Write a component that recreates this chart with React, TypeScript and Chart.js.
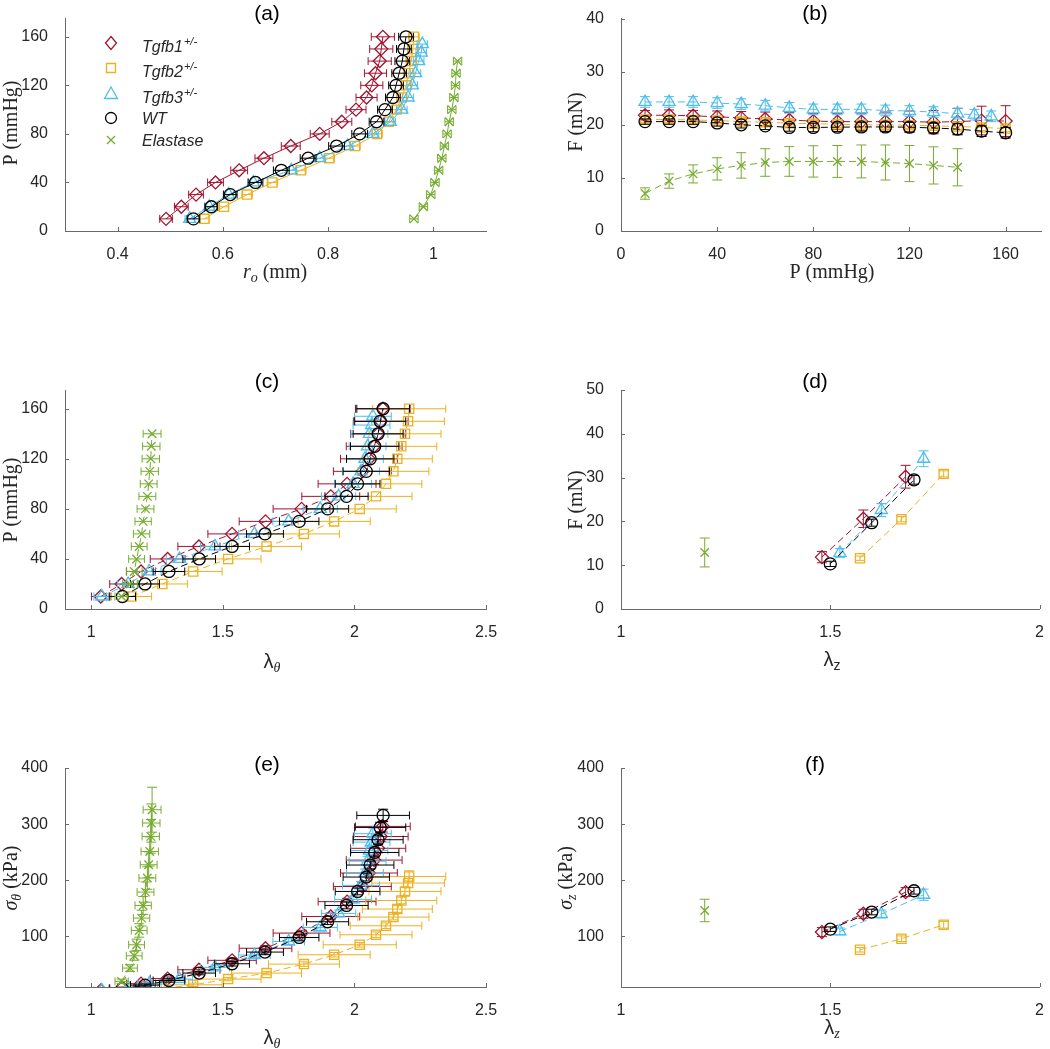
import React, { useEffect, useRef } from 'react';
import { Chart, registerables } from 'chart.js';
Chart.register(...registerables);

// ---------- colours ----------
const C_T1 = '#A2142F';
const C_T2 = '#EDB120';
const C_T3 = '#4DBEEE';
const C_WT = '#000000';
const C_EL = '#77AC30';
const AX = '#6a6a6a';
const TXT = '#262626';
const SANS = '"Liberation Sans", Arial, Helvetica, sans-serif';
const SERIF = '"Liberation Serif", "Times New Roman", serif';

// ---------- data ----------
const P_ALL = [10, 20, 30, 40, 50, 60, 70, 80, 90, 100, 110, 120, 130, 140, 150, 160];
const P_T3 = [10, 20, 30, 40, 50, 60, 70, 80, 90, 100, 110, 120, 130, 140, 147, 154];
const P_EL = [10, 20, 30, 40, 50, 60, 70, 80, 90, 100, 110, 120, 130, 140];

// (a) outer radius r_o (mm)
const ro_t1 = [0.492, 0.521, 0.549, 0.586, 0.631, 0.678, 0.729, 0.784, 0.826, 0.853, 0.873, 0.883, 0.890, 0.898, 0.901, 0.904];
const ro_t1_err = [0.012, 0.013, 0.014, 0.015, 0.016, 0.017, 0.018, 0.018, 0.019, 0.019, 0.020, 0.021, 0.021, 0.022, 0.022, 0.022];
const ro_t2 = [0.565, 0.602, 0.646, 0.694, 0.748, 0.802, 0.851, 0.893, 0.915, 0.930, 0.940, 0.948, 0.953, 0.958, 0.961, 0.963];
const ro_t2_err = [0.009, 0.009, 0.010, 0.010, 0.010, 0.010, 0.010, 0.010, 0.010, 0.010, 0.010, 0.010, 0.010, 0.010, 0.010, 0.010];
const ro_t3 = [0.537, 0.574, 0.611, 0.658, 0.730, 0.784, 0.837, 0.885, 0.918, 0.940, 0.952, 0.960, 0.966, 0.972, 0.977, 0.979];
const ro_t3_err = [0.009, 0.009, 0.009, 0.010, 0.010, 0.010, 0.010, 0.010, 0.010, 0.010, 0.010, 0.010, 0.010, 0.010, 0.010, 0.010];
const ro_wt = [0.544, 0.578, 0.614, 0.662, 0.711, 0.762, 0.816, 0.860, 0.892, 0.908, 0.923, 0.929, 0.935, 0.941, 0.944, 0.948];
const ro_wt_err = [0.012, 0.012, 0.013, 0.014, 0.015, 0.015, 0.015, 0.015, 0.014, 0.014, 0.014, 0.014, 0.014, 0.014, 0.014, 0.014];
const ro_el = [0.963, 0.981, 0.995, 1.003, 1.010, 1.016, 1.021, 1.026, 1.030, 1.035, 1.039, 1.042, 1.043, 1.046];
const ro_el_err = [0.008, 0.008, 0.008, 0.008, 0.008, 0.008, 0.008, 0.008, 0.008, 0.008, 0.008, 0.008, 0.008, 0.008];

// (b) axial force F (mN) vs pressure
const F_t1 = [21.8, 21.8, 21.7, 21.5, 21.3, 21.1, 20.9, 20.7, 20.6, 20.6, 20.6, 20.6, 20.5, 20.6, 20.8, 20.7];
const F_t1_err = [0.9, 1.0, 1.0, 1.1, 1.2, 1.3, 1.4, 1.4, 1.5, 1.6, 1.8, 2.0, 2.2, 2.5, 2.7, 2.9];
const F_t2 = [21.0, 21.0, 20.9, 20.8, 20.6, 20.5, 20.3, 20.2, 20.1, 20.0, 20.0, 19.9, 19.8, 19.7, 19.5, 19.3];
const F_t2_err = [0.6, 0.6, 0.6, 0.6, 0.6, 0.6, 0.6, 0.6, 0.6, 0.6, 0.6, 0.6, 0.6, 0.6, 0.6, 0.6];
const F_t3 = [24.3, 24.3, 24.3, 24.1, 23.9, 23.6, 23.2, 22.9, 22.9, 22.9, 22.7, 22.6, 22.4, 22.1, 21.9, 21.6];
const F_t3_err = [1.0, 1.0, 1.0, 1.0, 1.0, 1.0, 1.0, 1.0, 1.0, 1.0, 1.0, 1.0, 1.0, 1.0, 1.0, 1.0];
const F_wt = [20.6, 20.6, 20.6, 20.35, 20.0, 19.8, 19.5, 19.5, 19.55, 19.6, 19.6, 19.55, 19.4, 19.2, 18.8, 18.5];
const F_wt_err = [0.5, 0.5, 0.5, 0.6, 0.6, 0.7, 0.7, 0.8, 0.8, 0.8, 0.9, 0.9, 0.9, 1.0, 1.0, 1.0];
const F_el = [7.06, 9.4, 10.75, 11.7, 12.35, 12.9, 13.1, 13.1, 13.1, 13.1, 12.9, 12.7, 12.35, 12.0];
const F_el_err = [1.07, 1.35, 1.7, 2.1, 2.4, 2.6, 2.8, 2.95, 3.0, 3.1, 3.3, 3.4, 3.5, 3.5];

// (c)/(e) circumferential stretch
const lt_t1 = [1.036, 1.115, 1.189, 1.290, 1.409, 1.535, 1.662, 1.799, 1.910, 1.972, 2.030, 2.055, 2.075, 2.090, 2.100, 2.108];
const lt_t1_err = [0.035, 0.045, 0.055, 0.066, 0.080, 0.092, 0.100, 0.108, 0.110, 0.110, 0.110, 0.108, 0.106, 0.105, 0.104, 0.104];
const lt_t2 = [1.153, 1.270, 1.387, 1.520, 1.666, 1.808, 1.923, 2.020, 2.082, 2.120, 2.148, 2.163, 2.178, 2.192, 2.204, 2.208];
const lt_t2_err = [0.076, 0.095, 0.110, 0.125, 0.133, 0.135, 0.137, 0.139, 0.137, 0.136, 0.135, 0.133, 0.135, 0.137, 0.138, 0.139];
const lt_t3 = [1.040, 1.140, 1.220, 1.335, 1.470, 1.620, 1.750, 1.870, 1.940, 1.995, 2.025, 2.040, 2.050, 2.057, 2.065, 2.070];
const lt_t3_err = [0.030, 0.040, 0.045, 0.050, 0.055, 0.060, 0.060, 0.065, 0.065, 0.070, 0.070, 0.070, 0.070, 0.070, 0.070, 0.070];
const lt_wt = [1.118, 1.204, 1.295, 1.410, 1.535, 1.660, 1.790, 1.898, 1.970, 2.012, 2.045, 2.060, 2.077, 2.090, 2.098, 2.109];
const lt_wt_err = [0.050, 0.055, 0.060, 0.062, 0.066, 0.070, 0.075, 0.080, 0.082, 0.085, 0.088, 0.090, 0.092, 0.095, 0.097, 0.100];
const lt_el = [1.115, 1.147, 1.163, 1.172, 1.182, 1.191, 1.197, 1.206, 1.213, 1.218, 1.222, 1.226, 1.228, 1.231];
const lt_el_err = [0.025, 0.028, 0.030, 0.030, 0.030, 0.031, 0.031, 0.032, 0.032, 0.032, 0.033, 0.033, 0.033, 0.034];

// (e) circumferential stress (kPa)
const st_t1 = [4, 8, 16, 25, 40.7, 57.5, 79, 106, 135.6, 162, 189, 213, 236, 257, 278, 296];
const st_t1_err = [2, 2, 3, 3, 4, 4, 5, 5, 6, 6, 7, 7, 8, 8, 9, 10];
const st_t2 = [3, 7, 13.9, 24.1, 34.8, 50.8, 67.4, 85.2, 103, 119, 134.5, 148.8, 164.1, 180.2, 195.1, 206.9];
const st_t2_err = [2, 2, 3, 3, 3, 4, 4, 4, 5, 5, 5, 6, 6, 7, 8, 10];
const st_t3 = [4, 9, 15.7, 24, 45, 67, 91, 116, 141, 166, 191, 213, 234, 253, 268, 283];
const st_t3_err = [2, 2, 3, 3, 4, 4, 5, 5, 6, 6, 7, 7, 8, 8, 9, 10];
const st_wt = [7, 13.4, 21.6, 34.8, 51.4, 72.2, 98.2, 126.2, 155.2, 180.2, 205.8, 227.2, 249.6, 272.3, 294.2, 315.6];
const st_wt_err = [2, 2, 3, 3, 4, 4, 5, 5, 6, 6, 7, 7, 8, 8, 9, 11];
const st_el = [20, 43.7, 65.6, 85.2, 110.7, 132.7, 155.2, 179, 204, 227.7, 251.4, 278.2, 302, 325.7];
const st_el_err = [4, 6, 8, 10, 12, 14, 16, 18, 20, 23, 26, 30, 34, 40];

// (d)/(f) axial stretch
const lz_t1 = [1.480, 1.579, 1.680];
const lz_t2 = [1.571, 1.670, 1.771];
const lz_t3 = [1.523, 1.622, 1.723];
const lz_wt = [1.500, 1.599, 1.700];
const lz_el = [1.200];

// (d) axial force (mN)
const Fz_t1 = [11.85, 20.6, 30.2];
const Fz_t1_err = [1.3, 2.0, 2.6];
const Fz_t2 = [11.6, 20.5, 30.85];
const Fz_t2_err = [0.5, 0.6, 0.7];
const Fz_t3 = [12.8, 22.6, 34.3];
const Fz_t3_err = [1.0, 1.5, 1.8];
const Fz_wt = [10.3, 19.7, 29.5];
const Fz_wt_err = [0.6, 0.8, 1.0];
const Fz_el = [12.9];
const Fz_el_err = [3.3];

// (f) axial stress (kPa)
const sz_t1 = [107.8, 140.4, 179];
const sz_t1_err = [8, 8, 8];
const sz_t2 = [76.3, 96, 120.8];
const sz_t2_err = [4, 5, 6];
const sz_t3 = [109, 140, 174.3];
const sz_t3_err = [6, 7, 10];
const sz_wt = [113, 143.5, 181.4];
const sz_wt_err = [4, 5, 6];
const sz_el = [146.3];
const sz_el_err = [20];

// ticks
const TICKS_RO = [0.4, 0.6, 0.8, 1];
const TICKS_P = [0, 40, 80, 120, 160];
const TICKS_F40 = [0, 10, 20, 30, 40];
const TICKS_LT = [1, 1.5, 2, 2.5];
const TICKS_LZ = [1, 1.5, 2];
const TICKS_F50 = [0, 10, 20, 30, 40, 50];
const TICKS_S = [100, 200, 300, 400];

// legend
const LEGEND_NAMES = ['Tgfb1', 'Tgfb2', 'Tgfb3', 'WT', 'Elastase'];
const LEGEND_SUP = ['+/-', '+/-', '+/-', '', ''];

// ---------- geometry ----------
const COL_LEFT = [0, 525];
const COL_W = 525;
const ROW_TOP = [0, 340, 680];
const ROW_H = [340, 340, 369];
const AREA_L = [65, 621];
const AREA_R = [486, 1043];
const AREA_T = [13, 390, 768];
const AREA_B = [231, 609, 987];
const TITLE_X = [267, 815];
const TITLE_Y = [14, 382, 765];

type Seg = { t: string; f: string; dy?: number };

const STYLES = ['diamond', 'square', 'triangle', 'circle', 'cross'];
const COLORS = [C_T1, C_T2, C_T3, C_WT, C_EL];

function pointOpts(k: number) {
  switch (STYLES[k]) {
    case 'diamond': return { pointStyle: 'rectRot', pointRadius: 6.5 };
    case 'square': return { pointStyle: 'rect', pointRadius: 6.5 };
    case 'triangle': return { pointStyle: 'triangle', pointRadius: 7 };
    case 'circle': return { pointStyle: 'circle', pointRadius: 6 };
    default: return { pointStyle: 'crossRot', pointRadius: 6 };
  }
}

function series(k: number, xs: number[], ys: number[], errX: number[] | null, errY: number[] | null, dash: number[]) {
  return {
    label: LEGEND_NAMES[k],
    data: xs.map((x, i) => ({ x, y: ys[i] })),
    showLine: true,
    borderColor: COLORS[k],
    borderWidth: 1,
    borderDash: dash,
    pointBorderColor: COLORS[k],
    pointBackgroundColor: 'rgba(0,0,0,0)',
    pointBorderWidth: 1.3,
    ...pointOpts(k),
    order: 5 - k,
    errX,
    errY,
  };
}

function drawRich(ctx: CanvasRenderingContext2D, segs: Seg[], x: number, y: number, rot: boolean) {
  ctx.save();
  ctx.translate(x, y);
  if (rot) ctx.rotate(-Math.PI / 2);
  let w = 0;
  for (const s of segs) { ctx.font = s.f; w += ctx.measureText(s.t).width; }
  let cx = -w / 2;
  ctx.textBaseline = 'middle';
  ctx.textAlign = 'left';
  ctx.fillStyle = TXT;
  for (const s of segs) {
    ctx.font = s.f;
    ctx.fillText(s.t, cx, s.dy || 0);
    cx += ctx.measureText(s.t).width;
  }
  ctx.restore();
}

function drawMarker(ctx: CanvasRenderingContext2D, style: string, x: number, y: number, color: string) {
  ctx.save();
  ctx.strokeStyle = color;
  ctx.lineWidth = 1.3;
  ctx.beginPath();
  if (style === 'diamond') {
    ctx.moveTo(x, y - 6.5); ctx.lineTo(x + 5.5, y); ctx.lineTo(x, y + 6.5); ctx.lineTo(x - 5.5, y); ctx.closePath();
  } else if (style === 'square') {
    ctx.rect(x - 4.5, y - 4.5, 9, 9);
  } else if (style === 'triangle') {
    ctx.moveTo(x, y - 7); ctx.lineTo(x + 6.5, y + 4.5); ctx.lineTo(x - 6.5, y + 4.5); ctx.closePath();
  } else if (style === 'circle') {
    ctx.arc(x, y, 5.5, 0, Math.PI * 2);
  } else {
    ctx.moveTo(x - 4, y - 4); ctx.lineTo(x + 4, y + 4); ctx.moveTo(x + 4, y - 4); ctx.lineTo(x - 4, y + 4);
  }
  ctx.stroke();
  ctx.restore();
}

type PanelSpec = {
  id: string; col: number; row: number;
  xMin: number; xMax: number; yMin: number; yMax: number;
  xTicks: number[]; yTicks: number[];
  datasets: any[];
  title: string;
  xLabel: Seg[]; xLabelPos: [number, number];
  yLabel: Seg[]; yLabelPos: [number, number];
  legend?: boolean;
};

const S20 = `20px ${SERIF}`;
const I20 = `italic 20px ${SERIF}`;
const I14 = `italic 14px ${SERIF}`;
const L20 = `20px ${SANS}`;

const DASH = [7, 4];

const panels: PanelSpec[] = [
  {
    id: 'a', col: 0, row: 0, xMin: 0.3, xMax: 1.1, yMin: 0, yMax: 175, xTicks: TICKS_RO, yTicks: TICKS_P,
    datasets: [
      series(0, ro_t1, P_ALL, ro_t1_err, null, []),
      series(1, ro_t2, P_ALL, ro_t2_err, null, []),
      series(2, ro_t3, P_T3, ro_t3_err, null, []),
      series(3, ro_wt, P_ALL, ro_wt_err, null, []),
      series(4, ro_el, P_EL, ro_el_err, null, []),
    ],
    title: '(a)',
    xLabel: [{ t: 'r', f: I20 }, { t: 'o', f: I14, dy: 5 }, { t: ' (mm)', f: S20 }], xLabelPos: [275, 273],
    yLabel: [{ t: 'P (mmHg)', f: S20 }], yLabelPos: [12, 123],
    legend: true,
  },
  {
    id: 'b', col: 1, row: 0, xMin: 0, xMax: 175, yMin: 0, yMax: 40, xTicks: TICKS_P, yTicks: TICKS_F40,
    datasets: [
      series(0, P_ALL, F_t1, null, F_t1_err, DASH),
      series(1, P_ALL, F_t2, null, F_t2_err, DASH),
      series(2, P_T3, F_t3, null, F_t3_err, DASH),
      series(3, P_ALL, F_wt, null, F_wt_err, DASH),
      series(4, P_EL, F_el, null, F_el_err, DASH),
    ],
    title: '(b)',
    xLabel: [{ t: 'P (mmHg)', f: S20 }], xLabelPos: [832, 273],
    yLabel: [{ t: 'F (mN)', f: S20 }], yLabelPos: [577, 122],
  },
  {
    id: 'c', col: 0, row: 1, xMin: 0.9, xMax: 2.5, yMin: 0, yMax: 175, xTicks: TICKS_LT, yTicks: TICKS_P,
    datasets: [
      series(0, lt_t1, P_ALL, lt_t1_err, null, DASH),
      series(1, lt_t2, P_ALL, lt_t2_err, null, DASH),
      series(2, lt_t3, P_T3, lt_t3_err, null, DASH),
      series(3, lt_wt, P_ALL, lt_wt_err, null, DASH),
      series(4, lt_el, P_EL, lt_el_err, null, DASH),
    ],
    title: '(c)',
    xLabel: [{ t: 'λ', f: L20 }, { t: 'θ', f: I14, dy: 6 }], xLabelPos: [272, 662],
    yLabel: [{ t: 'P (mmHg)', f: S20 }], yLabelPos: [12, 500],
  },
  {
    id: 'd', col: 1, row: 1, xMin: 1, xMax: 2, yMin: 0, yMax: 50, xTicks: TICKS_LZ, yTicks: TICKS_F50,
    datasets: [
      series(0, lz_t1, Fz_t1, null, Fz_t1_err, DASH),
      series(1, lz_t2, Fz_t2, null, Fz_t2_err, DASH),
      series(2, lz_t3, Fz_t3, null, Fz_t3_err, DASH),
      series(3, lz_wt, Fz_wt, null, Fz_wt_err, DASH),
      series(4, lz_el, Fz_el, null, Fz_el_err, DASH),
    ],
    title: '(d)',
    xLabel: [{ t: 'λ', f: L20 }, { t: 'z', f: `14px ${SANS}`, dy: 6 }], xLabelPos: [832, 660],
    yLabel: [{ t: 'F (mN)', f: S20 }], yLabelPos: [577, 500],
  },
  {
    id: 'e', col: 0, row: 2, xMin: 0.9, xMax: 2.5, yMin: 10, yMax: 400, xTicks: TICKS_LT, yTicks: TICKS_S,
    datasets: [
      series(0, lt_t1, st_t1, lt_t1_err, st_t1_err, DASH),
      series(1, lt_t2, st_t2, lt_t2_err, st_t2_err, DASH),
      series(2, lt_t3, st_t3, lt_t3_err, st_t3_err, DASH),
      series(3, lt_wt, st_wt, lt_wt_err, st_wt_err, DASH),
      series(4, lt_el, st_el, lt_el_err, st_el_err, DASH),
    ],
    title: '(e)',
    xLabel: [{ t: 'λ', f: L20 }, { t: 'θ', f: I14, dy: 6 }], xLabelPos: [272, 1038],
    yLabel: [{ t: 'σ', f: I20 }, { t: 'θ', f: I14, dy: 5 }, { t: ' (kPa)', f: S20 }], yLabelPos: [12, 878],
  },
  {
    id: 'f', col: 1, row: 2, xMin: 1, xMax: 2, yMin: 10, yMax: 400, xTicks: TICKS_LZ, yTicks: TICKS_S,
    datasets: [
      series(0, lz_t1, sz_t1, null, sz_t1_err, DASH),
      series(1, lz_t2, sz_t2, null, sz_t2_err, DASH),
      series(2, lz_t3, sz_t3, null, sz_t3_err, DASH),
      series(3, lz_wt, sz_wt, null, sz_wt_err, DASH),
      series(4, lz_el, sz_el, null, sz_el_err, DASH),
    ],
    title: '(f)',
    xLabel: [{ t: 'λ', f: L20 }, { t: 'z', f: I14, dy: 6 }], xLabelPos: [832, 1028],
    yLabel: [{ t: 'σ', f: I20 }, { t: 'z', f: I14, dy: 5 }, { t: ' (kPa)', f: S20 }], yLabelPos: [567, 878],
  },
];

const fmt = (v: any) => String(Math.round(Number(v) * 100) / 100);

function makeDecor(p: PanelSpec) {
  const ox = COL_LEFT[p.col];
  const oy = ROW_TOP[p.row];
  return {
    id: 'decor_' + p.id,
    beforeDatasetDraw(chart: any, args: any) {
      const ds = chart.data.datasets[args.index];
      const xs = chart.scales.x;
      const ys = chart.scales.y;
      const a = chart.chartArea;
      const ctx: CanvasRenderingContext2D = chart.ctx;
      ctx.save();
      ctx.beginPath();
      ctx.rect(a.left, a.top, a.right - a.left, a.bottom - a.top);
      ctx.clip();
      ctx.strokeStyle = ds.borderColor;
      ctx.lineWidth = 1;
      ctx.setLineDash([]);
      ds.data.forEach((pt: any, i: number) => {
        const px = xs.getPixelForValue(pt.x);
        const py = ys.getPixelForValue(pt.y);
        ctx.beginPath();
        if (ds.errX) {
          const e = ds.errX[i];
          const x1 = xs.getPixelForValue(pt.x - e);
          const x2 = xs.getPixelForValue(pt.x + e);
          ctx.moveTo(x1, py); ctx.lineTo(x2, py);
          ctx.moveTo(x1, py - 4); ctx.lineTo(x1, py + 4);
          ctx.moveTo(x2, py - 4); ctx.lineTo(x2, py + 4);
        }
        if (ds.errY) {
          const e = ds.errY[i];
          const y1 = ys.getPixelForValue(pt.y - e);
          const y2 = ys.getPixelForValue(pt.y + e);
          ctx.moveTo(px, y1); ctx.lineTo(px, y2);
          ctx.moveTo(px - 5, y1); ctx.lineTo(px + 5, y1);
          ctx.moveTo(px - 5, y2); ctx.lineTo(px + 5, y2);
        }
        ctx.stroke();
      });
      ctx.restore();
    },
    afterDraw(chart: any) {
      const ctx: CanvasRenderingContext2D = chart.ctx;
      const a = chart.chartArea;
      const xs = chart.scales.x;
      const ys = chart.scales.y;
      // inward tick marks
      ctx.save();
      ctx.strokeStyle = AX;
      ctx.lineWidth = 1;
      ctx.beginPath();
      p.xTicks.forEach((v) => {
        const px = Math.round(xs.getPixelForValue(v)) + 0.5;
        ctx.moveTo(px, a.bottom); ctx.lineTo(px, a.bottom - 4);
      });
      p.yTicks.forEach((v) => {
        const py = Math.round(ys.getPixelForValue(v)) + 0.5;
        ctx.moveTo(a.left, py); ctx.lineTo(a.left + 4, py);
      });
      ctx.stroke();
      ctx.restore();
      // title
      ctx.save();
      ctx.font = `21px ${SANS}`;
      ctx.fillStyle = '#000';
      ctx.textAlign = 'center';
      ctx.textBaseline = 'middle';
      ctx.fillText(p.title, TITLE_X[p.col] - ox, TITLE_Y[p.row] - oy);
      ctx.restore();
      // axis labels
      drawRich(ctx, p.xLabel, p.xLabelPos[0] - ox, p.xLabelPos[1] - oy, false);
      drawRich(ctx, p.yLabel, p.yLabelPos[0] - ox, p.yLabelPos[1] - oy, true);
      // legend
      if (p.legend) {
        const rowsY = [43, 68, 94, 118, 140];
        for (let k = 0; k < 5; k++) {
          const y = rowsY[k] - oy;
          drawMarker(ctx, STYLES[k], 111 - ox, y, COLORS[k]);
          ctx.save();
          ctx.fillStyle = TXT;
          ctx.textAlign = 'left';
          ctx.textBaseline = 'alphabetic';
          ctx.font = `italic 16px ${SANS}`;
          const base = y + (LEGEND_SUP[k] ? 9 : 6);
          ctx.fillText(LEGEND_NAMES[k], 142 - ox, base);
          if (LEGEND_SUP[k]) {
            const w = ctx.measureText(LEGEND_NAMES[k]).width;
            ctx.font = `italic 11px ${SANS}`;
            ctx.fillText(LEGEND_SUP[k], 142 - ox + w + 1, base - 7);
          }
          ctx.restore();
        }
      }
    },
  };
}

function makeConfig(p: PanelSpec): any {
  const w = COL_W;
  const h = ROW_H[p.row];
  const yAxisW = AREA_L[p.col] - COL_LEFT[p.col];
  const xAxisH = ROW_TOP[p.row] + h - AREA_B[p.row];
  const padTop = AREA_T[p.row] - ROW_TOP[p.row];
  const padRight = COL_LEFT[p.col] + w - AREA_R[p.col];
  return {
    type: 'scatter',
    data: { datasets: p.datasets },
    options: {
      animation: false,
      responsive: false,
      events: [],
      layout: { padding: { top: padTop, right: padRight, left: 0, bottom: 0 } },
      plugins: { legend: { display: false }, tooltip: { enabled: false }, title: { display: false } },
      scales: {
        x: {
          type: 'linear', min: p.xMin, max: p.xMax,
          grid: { display: false },
          border: { display: true, color: AX, width: 1 },
          ticks: { color: TXT, font: { family: SANS, size: 16 }, padding: 6, maxRotation: 0, autoSkip: false, callback: fmt },
          afterBuildTicks: (s: any) => { s.ticks = p.xTicks.map((v) => ({ value: v })); },
          afterFit: (s: any) => { s.height = xAxisH; },
        },
        y: {
          type: 'linear', min: p.yMin, max: p.yMax,
          grid: { display: false },
          border: { display: true, color: AX, width: 1 },
          ticks: { color: TXT, font: { family: SANS, size: 16 }, padding: 9, autoSkip: false, callback: fmt },
          afterBuildTicks: (s: any) => { s.ticks = p.yTicks.map((v) => ({ value: v })); },
          afterFit: (s: any) => { s.width = yAxisW; },
        },
      },
    },
    plugins: [makeDecor(p)],
  };
}

function Panel({ p }: { p: PanelSpec }) {
  const ref = useRef<HTMLCanvasElement>(null);
  useEffect(() => {
    if (!ref.current) return;
    const chart = new Chart(ref.current, makeConfig(p));
    return () => chart.destroy();
  }, []);
  const w = COL_W;
  const h = ROW_H[p.row];
  return (
    <canvas
      ref={ref}
      width={w}
      height={h}
      style={{ position: 'absolute', left: COL_LEFT[p.col], top: ROW_TOP[p.row], width: w, height: h }}
    />
  );
}

export default function App() {
  return (
    <div style={{ position: 'absolute', left: 0, top: 0, width: 1050, height: 1049, background: '#fff', overflow: 'hidden' }}>
      {panels.map((p) => <Panel key={p.id} p={p} />)}
    </div>
  );
}
